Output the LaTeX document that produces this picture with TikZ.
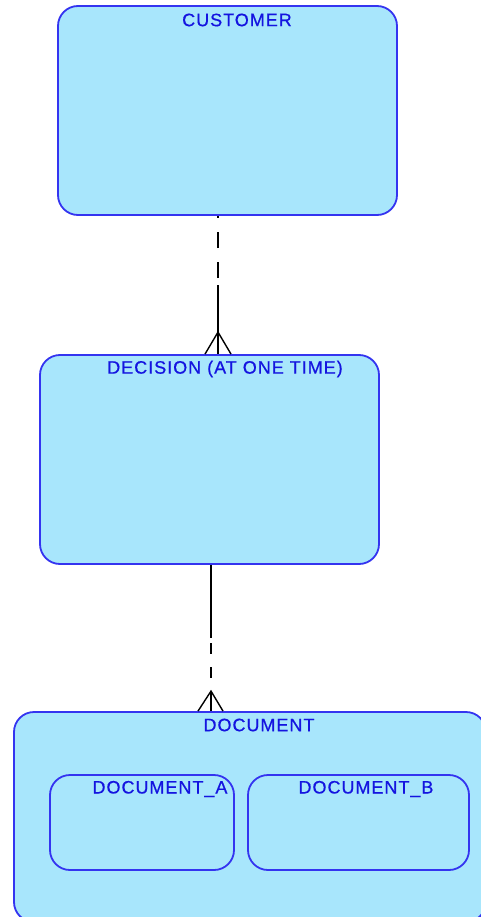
\documentclass[tikz,border=0pt]{standalone}
\usepackage{fontspec}
\newfontfamily\erfont[LetterSpace=5.5, FakeBold=0.6]{Liberation Sans}
\usetikzlibrary{calc}
\definecolor{entityfill}{HTML}{A8E6FC}
\definecolor{entityline}{HTML}{3434F0}
\definecolor{entitytext}{HTML}{1414E0}
\tikzset{
  entity/.style={draw=entityline, fill=entityfill, line width=1.8pt, rounded corners=20pt, inner sep=0pt},
  entitylabel/.style={font=\erfont\fontsize{18}{20}\selectfont, text=entitytext, inner sep=0pt},
  optline/.style={line width=1.4pt, black, dash pattern=on 16pt off 14pt, dash phase=23pt},
  mandline/.style={line width=1.4pt, black},
}
\begin{document}
\begin{tikzpicture}[x=1pt, y=-1pt]
  \clip (0,0) rectangle (481,917);
  \fill[white] (0,0) rectangle (481,917);

  % Entidades
  \node[entity, minimum width=339pt, minimum height=209pt] (customer) at (227.5,110.5) {};
  \node[entitylabel] (customerlbl) at (237,20) {CUSTOMER};

  \node[entity, minimum width=339pt, minimum height=209pt] (decision) at (209.5,459.5) {};
  \node[entitylabel] (decisionlbl) at (225,369) {DECISION (AT ONE TIME)};

  \node[entity, minimum width=472pt, minimum height=210pt] (document) at (250,817) {};
  \node[entitylabel] (documentlbl) at (259,725) {DOCUMENT};

  % Subtipos
  \node[entity, minimum width=184pt, minimum height=95pt] (documenta) at (142,822.5) {};
  \node[entitylabel] (documentalbl) at (160,789) {DOCUMENT\_A};
  \node[entity, minimum width=221pt, minimum height=95pt] (documentb) at (358.5,822.5) {};
  \node[entitylabel] (documentblbl) at (366,789) {DOCUMENT\_B};

  % Relacion CUSTOMER - DECISION
  \coordinate (mid1) at (218,285);
  \coordinate (foot1) at ($(decision.north -| mid1)+(0,-22)$);
  \draw[optline, dash phase=23pt] (mid1) -- (customer.south -| mid1);
  \draw[mandline] (mid1) -- (decision.north -| mid1);
  \draw[mandline] ($(decision.north -| mid1)+(-13,0)$) -- (foot1) -- ($(decision.north -| mid1)+(13,0)$);

  % Relacion DECISION - DOCUMENT
  \coordinate (mid2) at (211,638);
  \coordinate (foot2) at ($(document.north -| mid2)+(0,-20)$);
  \draw[mandline] (decision.south -| mid2) -- (mid2);
  \draw[optline, dash pattern=on 11pt off 13pt, dash phase=19pt] (mid2) -- (foot2);
  \draw[mandline] (foot2) -- (document.north -| mid2);
  \draw[mandline] ($(document.north -| mid2)+(-13,0)$) -- (foot2) -- ($(document.north -| mid2)+(12,0)$);
\end{tikzpicture}
\end{document}
